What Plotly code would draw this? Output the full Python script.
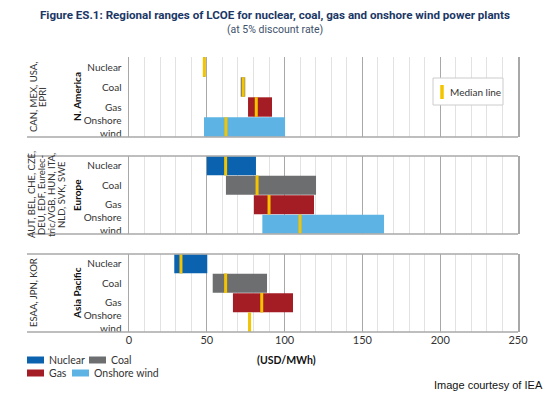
import plotly.graph_objects as go

# ---------------- data ----------------
categories = ["Nuclear", "Coal", "Gas", "Onshore wind"]
cat_labels = ["Nuclear", "Coal", "Gas", "Onshore<br>wind"]
cat_colors = ["#0b63b0", "#6d6e70", "#a51d24", "#5db4e4"]

regions = ["N. America", "Europe", "Asia Pacific"]
region_members = [
    ["CAN, MEX, USA,", "EPRI"],
    ["AUT, BEL, CHE, CZE,", "DEU, EDF, Eurelec-", "tric/VGB, HUN, ITA,", "NLD, SVK, SWE"],
    ["ESAA, JPN, KOR"],
]

na_low = [47.6, 71.8, 76.5, 48.2]
na_high = [49.0, 74.7, 91.9, 100.3]
na_median = [48.4, 73.4, 81.8, 62.3]

eu_low = [50.0, 62.3, 80.3, 85.7]
eu_high = [81.6, 120.2, 118.9, 163.9]
eu_median = [62.1, 82.3, 90.0, 109.9]

ap_low = [29.1, 53.8, 66.8, 76.7]
ap_high = [50.3, 88.7, 105.4, 78.2]
ap_median = [33.4, 62.1, 85.3, 77.5]

tick_vals = [0, 50, 100, 150, 200, 250]
x_unit = "(USD/MWh)"

lows = [na_low, eu_low, ap_low]
highs = [na_high, eu_high, ap_high]
medians = [na_median, eu_median, ap_median]

# ---------------- layout helpers ----------------
W, H = 550, 393
ML, MR, MT, MB = 129, 32, 57, 61
PW, PH = W - ML - MR, H - MT - MB


def px(x):
    return (x - ML) / PW


def py(y):
    return (H - MB - y) / PH


panel_px = [(57, 137), (156, 234), (254, 332)]
member_x = [[33, 42], [31, 41, 51, 61], [33]]
FONT = "Lato, Open Sans, sans-serif"
TXT = "#333333"
GRID_MAJ = "#a8a8a8"
GRID_MIN = "#e2e2e2"
MED = "#f5c400"

fig = go.Figure()


def note(text, x, y, size, color=TXT, family=FONT, xanchor="center", angle=0):
    fig.add_annotation(text=text, xref="paper", yref="paper", x=px(x), y=py(y),
                       xanchor=xanchor, yanchor="middle", showarrow=False,
                       textangle=angle, font=dict(family=family, size=size, color=color))


for i in range(3):
    sfx = "" if i == 0 else str(i + 1)
    xa = "x" + sfx
    ya = "y" + sfx
    widths = [h - l for l, h in zip(lows[i], highs[i])]
    fig.add_trace(go.Bar(
        y=categories, x=widths, base=lows[i], orientation="h",
        marker=dict(color=cat_colors, line=dict(width=0)),
        width=0.97, xaxis=xa, yaxis=ya, hoverinfo="skip",
    ))
    fig.add_trace(go.Scatter(
        y=categories, x=medians[i], mode="markers",
        marker=dict(symbol="line-ns", size=14, color=MED,
                    line=dict(color=MED, width=3)),
        xaxis=xa, yaxis=ya, hoverinfo="skip",
    ))

    top, bot = panel_px[i]
    dom = [py(bot), py(top)]
    fig.layout["xaxis" + sfx] = dict(
        range=[0, 250], anchor=ya, domain=[0, 1],
        tickvals=tick_vals, showticklabels=(i == 2),
        showgrid=True, gridcolor=GRID_MAJ, gridwidth=1,
        minor=dict(dtick=10, showgrid=True, gridcolor=GRID_MIN, gridwidth=1),
        zeroline=False, showline=False, ticks="",
        tickfont=dict(family=FONT, size=11, color=TXT),
        fixedrange=True,
        **({} if i == 0 else {"matches": "x"}),
    )
    fig.layout["yaxis" + sfx] = dict(
        domain=dom, anchor=xa, range=[3.5, -0.5],
        tickvals=categories, ticktext=cat_labels, ticks="",
        tickfont=dict(family=FONT, size=10, color=TXT),
        showgrid=False, zeroline=False,
        showline=True, mirror=True, linecolor=GRID_MAJ, linewidth=1.5,
        ticklabelstandoff=4, fixedrange=True,
    )

    lines_y = [bot] if i == 0 else [top, bot]
    for yy in lines_y:
        fig.add_shape(type="line", xref="paper", yref="paper",
                      x0=px(27), x1=1, y0=py(yy), y1=py(yy),
                      line=dict(color=GRID_MAJ, width=1.5), layer="above")

    mid = (top + bot) / 2
    note("<b>" + regions[i] + "</b>", 77, mid, 10, color="#111", angle=-90)
    for line, lx in zip(region_members[i], member_x[i]):
        note(line, lx, mid, 9.5, angle=-90)

# title
note("<b>Figure ES.1: Regional ranges of LCOE for nuclear, coal, gas and onshore wind power plants</b>",
     275, 15, 11.6, color="#1b3766", family="Liberation Sans Narrow, Roboto, sans-serif")
note("(at 5% discount rate)", 275, 29, 10.5, color="#40516b", family="Roboto, sans-serif")

# axis unit
note("<b>" + x_unit + "</b>", 286, 360, 10.5, color="#111")

# median legend box
fig.add_shape(type="rect", xref="paper", yref="paper",
              x0=px(433), x1=px(503), y0=py(105), y1=py(78),
              line=dict(color="#cccccc", width=1), fillcolor="white", layer="above")
fig.add_shape(type="line", xref="paper", yref="paper",
              x0=px(442), x1=px(442), y0=py(85), y1=py(99),
              line=dict(color=MED, width=3.5), layer="above")
note("Median line", 448, 92, 10, xanchor="left")

# bottom legend
leg_pos = [(27, 360), (89, 360), (27, 373), (72, 373)]
for (lx, ly), name, col in zip(leg_pos, categories, cat_colors):
    fig.add_shape(type="rect", xref="paper", yref="paper",
                  x0=px(lx), x1=px(lx + 17), y0=py(ly + 3.5), y1=py(ly - 3.5),
                  line=dict(width=0), fillcolor=col)
    note(name, lx + 20, ly, 10.5, xanchor="left")

note("Image courtesy of IEA", 545, 385, 11, color="#111",
     family="Liberation Sans, Arial, sans-serif", xanchor="right")

fig.update_layout(
    width=W, height=H, margin=dict(l=ML, r=MR, t=MT, b=MB),
    paper_bgcolor="white", plot_bgcolor="white", showlegend=False,
    barmode="overlay", hovermode=False,
)

fig.write_html("out.html", config={"displayModeBar": False, "staticPlot": True},
               post_script="document.body.style.margin='0';")
